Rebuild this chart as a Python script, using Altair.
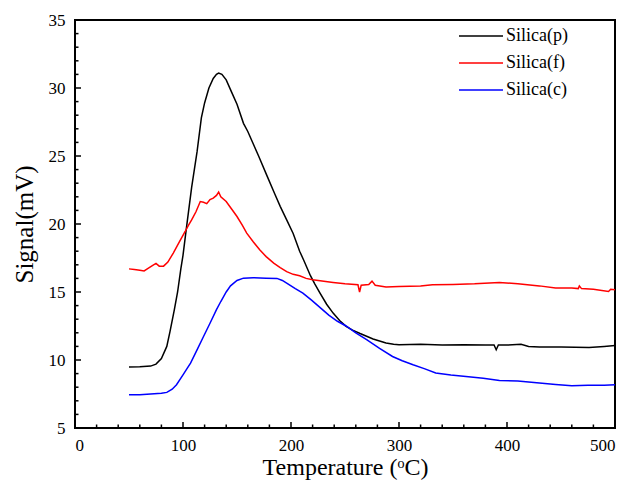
import altair as alt
import pandas as pd

# Silica(p) - black
p_T = [50, 60, 70, 75, 80, 85, 88, 92, 95, 98, 100, 103, 108, 113, 117, 120, 124, 128, 131, 133,
       136, 140, 145, 150, 156, 160, 165, 170, 178, 185, 190, 196, 202, 208, 212, 218, 222, 227,
       233, 239, 245, 251, 257, 264, 270, 276, 282, 288, 295, 300, 320, 340, 360, 380, 388, 390,
       392, 400, 413, 420, 430, 450, 476, 490, 500]
p_V = [9.48, 9.5, 9.55, 9.7, 10.1, 11.0, 12.1, 13.7, 15.0, 16.7, 17.7, 19.6, 22.7, 25.3, 27.8,
       28.9, 30.0, 30.7, 31.0, 31.1, 31.0, 30.6, 29.7, 28.8, 27.4, 26.8, 25.9, 25.0, 23.5, 22.2,
       21.3, 20.3, 19.3, 18.0, 17.3, 16.2, 15.6, 14.9, 14.1, 13.45, 12.9, 12.47, 12.2, 11.95,
       11.75, 11.55, 11.4, 11.25, 11.15, 11.12, 11.15, 11.1, 11.12, 11.1, 11.1, 10.75, 11.1,
       11.1, 11.15, 11.0, 10.95, 10.95, 10.92, 11.0, 11.07]

# Silica(f) - red
f_T = [50, 55, 60, 64, 68, 72, 75, 78, 82, 86, 91, 96, 102, 105, 108, 112, 116, 119, 122, 125,
       128, 131, 133, 135, 140, 145, 150, 155, 159, 165, 171, 177, 184, 190, 196, 202, 208, 214,
       220, 227, 239, 250, 262, 263.5, 265, 272, 275, 278, 288, 300, 320, 331, 350, 370, 393,
       410, 430, 445, 460, 466, 467, 469, 480, 494, 496, 500]
f_V = [16.7, 16.65, 16.6, 16.55, 16.75, 16.95, 17.1, 16.9, 16.9, 17.2, 17.86, 18.6, 19.45, 19.9,
       20.3, 20.9, 21.65, 21.6, 21.5, 21.8, 21.9, 22.1, 22.35, 22.0, 21.65, 21.1, 20.55, 19.9,
       19.33, 18.7, 18.1, 17.6, 17.12, 16.8, 16.5, 16.3, 16.19, 16.0, 15.9, 15.82, 15.7, 15.6,
       15.53, 15.0, 15.5, 15.55, 15.8, 15.5, 15.36, 15.4, 15.45, 15.53, 15.55, 15.6, 15.7,
       15.6, 15.45, 15.3, 15.3, 15.25, 15.45, 15.25, 15.2, 15.04, 15.2, 15.16]

# Silica(c) - blue
c_T = [50, 60, 70, 80, 85, 90, 94, 100, 104, 107, 113, 119, 125, 131, 135, 140, 144, 150, 156,
       165, 177, 187, 192, 196, 204, 211, 219, 227, 235, 243, 251, 260, 270, 282, 294, 303, 313,
       324, 334, 348, 362, 378, 393, 410, 430, 445, 460, 475, 490, 500]
c_V = [7.45, 7.45, 7.5, 7.55, 7.62, 7.85, 8.18, 8.9, 9.4, 9.77, 10.75, 11.73, 12.7, 13.7, 14.3,
       15.0, 15.45, 15.85, 16.02, 16.05, 16.02, 16.0, 15.85, 15.65, 15.25, 14.92, 14.4, 13.85,
       13.3, 12.85, 12.5, 12.0, 11.49, 10.85, 10.26, 9.95, 9.65, 9.35, 9.04, 8.9, 8.79, 8.65,
       8.5, 8.45, 8.3, 8.2, 8.1, 8.15, 8.15, 8.18]

series_names = ["Silica(p)", "Silica(f)", "Silica(c)"]
series_colors = ["#000000", "#ff0000", "#0000ff"]

x_lim = [0, 500]
y_lim = [5, 35]
x_major = [0, 100, 200, 300, 400, 500]
x_minor = [v for v in range(0, 501, 20) if v % 100 != 0]
y_major = [5, 10, 15, 20, 25, 30, 35]
y_minor = [v for v in range(5, 36) if v % 5 != 0]

rows = []
for name, T, V in zip(series_names, [p_T, f_T, c_T], [p_V, f_V, c_V]):
    for i, (t, v) in enumerate(zip(T, V)):
        rows.append({"series": name, "T": t, "v": v, "order": i})
df = pd.DataFrame(rows)

FONT = "Liberation Serif"
W, H = 540, 408
MAJ, MIN = 6, 3.5

xscale = alt.Scale(domain=x_lim, nice=False, zero=False)
yscale = alt.Scale(domain=y_lim, nice=False, zero=False)

x_axis = alt.Axis(values=x_major, ticks=False, domain=False, grid=False, zindex=1,
                  labelPadding=9, labelFont=FONT, labelFontSize=17, labelColor="black",
                  title="Temperature (ᵒC)", titleFont=FONT, titleFontSize=24,
                  titleFontWeight="normal", titleColor="black", titlePadding=2)
y_axis = alt.Axis(values=y_major, ticks=False, domain=False, grid=False, zindex=1,
                  labelPadding=10, labelFont=FONT, labelFontSize=17, labelColor="black",
                  title="Signal(mV)", titleFont=FONT, titleFontSize=25,
                  titleFontWeight="normal", titleColor="black", titlePadding=11)

lines = alt.Chart(df).mark_line(strokeWidth=1.5).encode(
    x=alt.X("T:Q", scale=xscale, axis=x_axis),
    y=alt.Y("v:Q", scale=yscale, axis=y_axis),
    color=alt.Color("series:N",
                    scale=alt.Scale(domain=series_names, range=series_colors),
                    legend=alt.Legend(orient="none", legendX=394, legendY=4, title=None,
                                      symbolType="M-2,0H2", symbolSize=484,
                                      symbolStrokeWidth=1.5, labelFont=FONT,
                                      labelFontSize=18, labelColor="black", rowPadding=6,
                                      labelOffset=13)),
    order="order:Q",
)


def xticks(vals, length):
    return alt.Chart(pd.DataFrame({"T": vals})).mark_rule(color="black", strokeWidth=1.5).encode(
        x=alt.X("T:Q", scale=xscale, axis=x_axis),
        y=alt.value(H), y2=alt.value(H - length))


def yticks(vals, length):
    return alt.Chart(pd.DataFrame({"v": vals})).mark_rule(color="black", strokeWidth=1.5).encode(
        y=alt.Y("v:Q", scale=yscale, axis=y_axis),
        x=alt.value(0), x2=alt.value(length))


# frame along the scale limits (horizontal and vertical edges)
hframe = alt.Chart(pd.DataFrame({"T": [x_lim[0]] * 2, "T2": [x_lim[1]] * 2, "v": y_lim})).mark_rule(
    color="black", strokeWidth=2).encode(
    x=alt.X("T:Q", scale=xscale, axis=x_axis), x2="T2:Q",
    y=alt.Y("v:Q", scale=yscale, axis=y_axis))
vframe = alt.Chart(pd.DataFrame({"T": x_lim, "v": [y_lim[0]] * 2, "v2": [y_lim[1]] * 2})).mark_rule(
    color="black", strokeWidth=2).encode(
    x=alt.X("T:Q", scale=xscale, axis=x_axis),
    y=alt.Y("v:Q", scale=yscale, axis=y_axis), y2="v2:Q")

chart = alt.layer(
    xticks(x_major, MAJ), xticks(x_minor, MIN), yticks(y_major, MAJ), yticks(y_minor, MIN),
    hframe, vframe, lines
).properties(
    width=W, height=H,
    autosize=alt.AutoSizeParams(type="none"),
    padding={"left": 67, "top": 12, "right": 7, "bottom": 60},
    background="white",
).configure_view(stroke="black", strokeWidth=2)

chart.save("out.html", embed_options={"renderer": "svg", "actions": False})
